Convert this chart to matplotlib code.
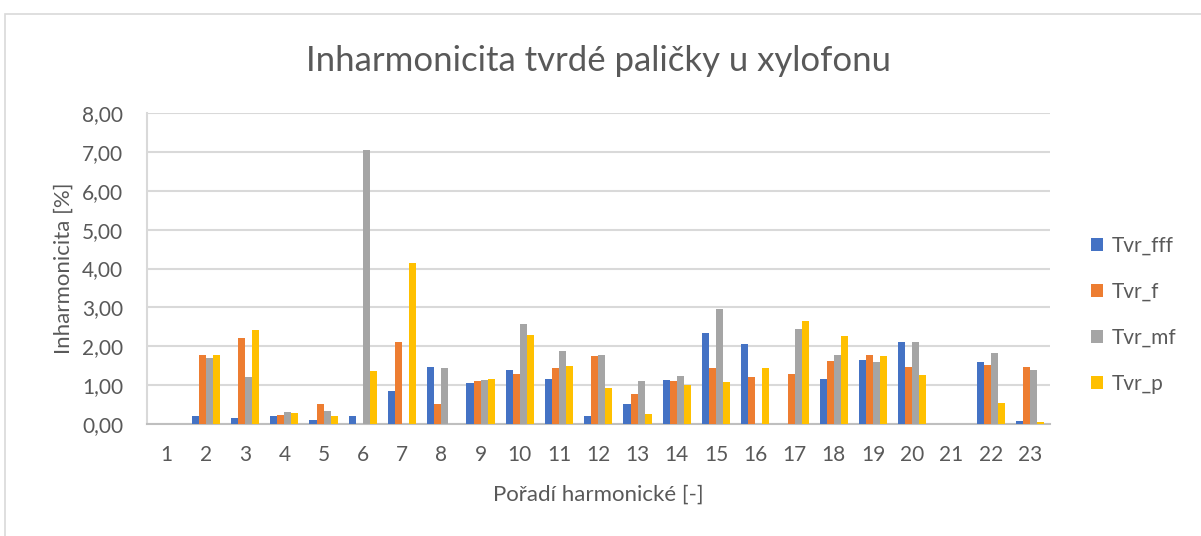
import numpy as np
import matplotlib
matplotlib.use('Agg')
from matplotlib import pyplot as plt
from matplotlib.patches import Rectangle

harmonics = [str(i) for i in range(1, 24)]

tvr_fff = [0.00, 0.21, 0.15, 0.21, 0.09, 0.20, 0.85, 1.47, 1.05, 1.39, 1.15, 0.21,
           0.51, 1.12, 2.33, 2.06, 0.00, 1.16, 1.65, 2.10, 0.00, 1.59, 0.07]
tvr_f = [0.00, 1.77, 2.21, 0.24, 0.51, 0.00, 2.10, 0.51, 1.11, 1.29, 1.45, 1.75,
         0.77, 1.11, 1.44, 1.20, 1.28, 1.61, 1.77, 1.47, 0.00, 1.53, 1.46]
tvr_mf = [0.00, 1.69, 1.21, 0.30, 0.33, 7.04, 0.00, 1.44, 1.13, 2.56, 1.89, 1.77,
          1.11, 1.24, 2.96, 0.00, 2.44, 1.77, 1.60, 2.11, 0.00, 1.82, 1.38]
tvr_p = [0.00, 1.77, 2.41, 0.27, 0.21, 1.36, 4.15, 0.00, 1.17, 2.29, 1.49, 0.93,
         0.26, 1.01, 1.07, 1.45, 2.66, 2.26, 1.74, 1.25, 0.00, 0.54, 0.06]

series = [('Tvr_fff', tvr_fff, '#4472C4'),
          ('Tvr_f', tvr_f, '#ED7D31'),
          ('Tvr_mf', tvr_mf, '#A5A5A5'),
          ('Tvr_p', tvr_p, '#FFC000')]

plt.rcParams['font.family'] = ['Lato', 'DejaVu Sans']
text_color = '#595959'
grid_color = '#D9D9D9'

fig = plt.figure(figsize=(12.01, 5.36), dpi=100)
fig.patches.append(Rectangle((0.004, -0.01), 1.0, 0.984, transform=fig.transFigure,
                             fill=False, edgecolor=grid_color, linewidth=1.2))
ax = fig.add_axes([0.1224, 0.209, 0.7516, 0.580])

x = np.arange(len(harmonics))
width = 0.18
for i, (name, vals, color) in enumerate(series):
    ax.bar(x + (i - 1.5) * width, vals, width, color=color, label=name, zorder=3)

ax.set_xlim(-0.5, len(harmonics) - 0.5)
ax.set_ylim(0, 8)
ax.set_yticks(np.arange(0, 9, 1))
ax.set_yticklabels(['{:.2f}'.format(v).replace('.', ',') for v in range(9)])
ax.set_xticks(x)
ax.set_xticklabels(harmonics)
ax.grid(axis='y', color=grid_color, linewidth=1.5, zorder=0)
for side in ['top', 'right']:
    ax.spines[side].set_visible(False)
ax.spines['bottom'].set_color('#BFBFBF')
ax.spines['bottom'].set_linewidth(1.5)
ax.spines['left'].set_color(grid_color)
ax.spines['left'].set_linewidth(1.5)
ax.tick_params(axis='both', length=0, labelsize=15, colors=text_color)
ax.tick_params(axis='x', pad=15)
ax.tick_params(axis='y', pad=17)

ax.set_title('Inharmonicita tvrdé paličky u xylofonu', fontsize=25,
             color=text_color, pad=30)
ax.set_xlabel('Pořadí harmonické [-]', fontsize=16, color=text_color, labelpad=14)
ax.set_ylabel('Inharmonicita [%]', fontsize=16, color=text_color, labelpad=6)

leg = ax.legend(loc='center left', bbox_to_anchor=(1.025, 0.352), frameon=False,
                fontsize=15, labelcolor=text_color, handlelength=0.6,
                handleheight=0.6, handletextpad=0.4, labelspacing=1.25)

fig.savefig('out.png', dpi=100)
